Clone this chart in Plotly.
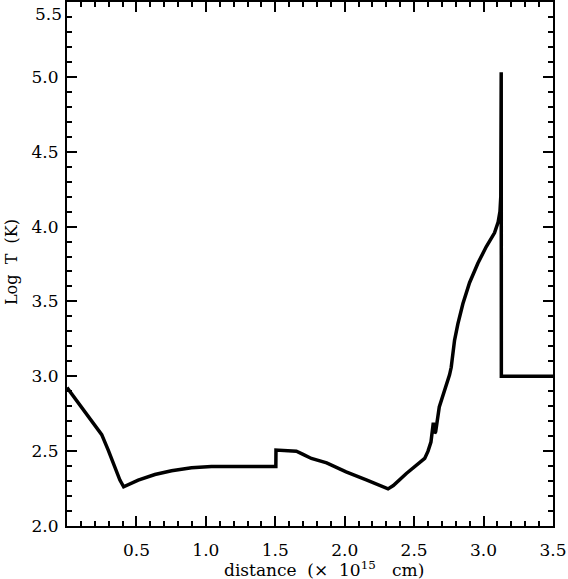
import plotly.graph_objects as go

# temperature profile
distance = [0.0, 0.10, 0.20, 0.25, 0.297, 0.345, 0.381, 0.408, 0.45, 0.513,
            0.633, 0.753, 0.897, 1.04, 1.25, 1.504,
            1.505, 1.60, 1.652, 1.70, 1.76, 1.87, 2.01, 2.16, 2.312, 2.35,
            2.444, 2.576, 2.60, 2.621, 2.638, 2.648, 2.655, 2.681, 2.731,
            2.755, 2.767, 2.791, 2.815, 2.851, 2.899, 2.959, 3.019, 3.079,
            3.105, 3.118, 3.124, 3.127, 3.128, 3.5]
log_t = [2.925, 2.80, 2.673, 2.61, 2.507, 2.395, 2.307, 2.262, 2.28, 2.307,
         2.344, 2.369, 2.389, 2.398, 2.398, 2.398,
         2.507, 2.505, 2.50, 2.478, 2.451, 2.422, 2.362, 2.307, 2.248, 2.27,
         2.351, 2.451, 2.50, 2.56, 2.69, 2.62, 2.63, 2.795, 2.93,
         3.01, 3.06, 3.24, 3.35, 3.484, 3.625, 3.755, 3.865, 3.958,
         4.03, 4.10, 4.2, 5.03, 3.0, 3.0]

x_ticks = [0.5, 1.0, 1.5, 2.0, 2.5, 3.0, 3.5]
y_ticks = [2.0, 2.5, 3.0, 3.5, 4.0, 4.5, 5.0]

serif = "DejaVu Serif"
fsize = 17
nb = "\u00a0"

fig = go.Figure()
fig.add_trace(go.Scatter(x=distance, y=log_t, mode="lines",
                         line=dict(color="black", width=3.5),
                         showlegend=False, hoverinfo="skip"))

axis_style = dict(
    showgrid=False, zeroline=False, automargin=False,
    showline=True, linecolor="black", linewidth=2, mirror="ticks",
    ticks="inside", ticklen=10, tickwidth=2, tickcolor="black",
    tickfont=dict(family=serif, size=fsize, color="black"),
)

fig.update_xaxes(range=[0, 3.5], tickvals=x_ticks,
                 ticktext=[f"{v:.1f}" for v in x_ticks],
                 ticklabelstandoff=8,
                 minor=dict(ticks="inside", dtick=0.1, tick0=0, ticklen=5,
                            tickwidth=2, tickcolor="black"),
                 **axis_style)
fig.update_yaxes(range=[2.0, 5.5], tickvals=y_ticks + [5.5],
                 ticktext=[f"{v:.1f}" for v in y_ticks] + [""],
                 ticklabelstandoff=3,
                 minor=dict(ticks="inside", dtick=0.1, tick0=0, ticklen=5,
                            tickwidth=2, tickcolor="black"),
                 **axis_style)

fig.add_annotation(x=0, y=5.5, xref="paper", yref="y", text="5.5",
                   showarrow=False, xanchor="right", yanchor="top",
                   xshift=-3, yshift=0,
                   font=dict(family=serif, size=fsize, color="black"))
fig.add_annotation(x=0.528, y=-0.083, xref="paper", yref="paper",
                   text=f"distance{nb} (×{nb} 10<sup>15</sup>{nb}{nb} cm)",
                   showarrow=False, xanchor="center", yanchor="middle",
                   font=dict(family=serif, size=fsize, color="black"))
fig.add_annotation(x=-0.114, y=0.503, xref="paper", yref="paper",
                   text=f"Log{nb} T{nb} (K)", showarrow=False, textangle=-90,
                   xanchor="center", yanchor="middle",
                   font=dict(family=serif, size=16, color="black"))

fig.update_layout(
    width=568, height=579,
    margin=dict(l=67, r=15, t=2, b=53),
    paper_bgcolor="white", plot_bgcolor="white",
)

# page body margin would shift the figure
fig.write_html("out.html", config={"displayModeBar": False},
               post_script="document.body.style.margin='0';")
